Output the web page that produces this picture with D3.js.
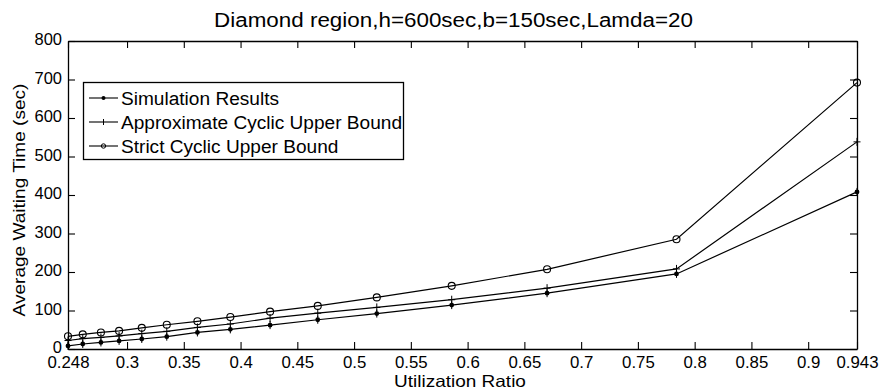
<!DOCTYPE html>
<html>
<head>
<meta charset="utf-8">
<script src="https://cdn.jsdelivr.net/npm/d3@7/dist/d3.min.js"></script>
<style>
  html, body { margin: 0; padding: 0; background: #fff; }
  svg { display: block; font-family: "Liberation Sans", Arial, Helvetica, sans-serif; }
</style>
</head>
<body>
<svg id="chart" width="883" height="390"></svg>
<script>
// Utilization ratios at which the waiting time was evaluated
const utilization = [0.248, 0.261, 0.277, 0.293, 0.313, 0.335, 0.362, 0.391, 0.426, 0.468, 0.520, 0.586, 0.670, 0.784, 0.943];

// Average waiting time (sec) for each method
const simulationResults = [8, 13, 17, 21, 26, 32, 43, 51, 62, 76, 92, 114, 145, 195, 408];
const approxCyclicBound = [22, 27, 30, 34, 40, 46, 56, 65, 80, 93, 108, 128, 158, 208, 538];
const strictCyclicBound = [33, 38, 43, 47, 55, 63, 72, 83, 97, 112, 134, 164, 207, 285, 692];

const seriesNames = ["Simulation Results", "Approximate Cyclic Upper Bound", "Strict Cyclic Upper Bound"];

// Axis ticks
const xTicks = [0.248, 0.3, 0.35, 0.4, 0.45, 0.5, 0.55, 0.6, 0.65, 0.7, 0.75, 0.8, 0.85, 0.9, 0.943];
const xTickLabels = ["0.248", "0.3", "0.35", "0.4", "0.45", "0.5", "0.55", "0.6", "0.65", "0.7", "0.75", "0.8", "0.85", "0.9", "0.943"];
const yTicks = [0, 100, 200, 300, 400, 500, 600, 700, 800];

const titleText = "Diamond region,h=600sec,b=150sec,Lamda=20";
const xLabel = "Utilization Ratio";
const yLabel = "Average Waiting Time (sec)";

const svg = d3.select("#chart");
const plotLeft = 68, plotRight = 857, plotTop = 41, plotBottom = 349;
const tickLen = 7;

const x = d3.scaleLinear().domain([0.248, 0.943]).range([plotLeft, plotRight]);
const y = d3.scaleLinear().domain([0, 800]).range([plotBottom, plotTop]);

const fmt = d => xTickLabels[xTicks.indexOf(d)];

// Stretch a text horizontally by a factor (the typeface used is a bit narrow)
function widen(sel, factor) {
  sel.each(function () {
    const w = this.getComputedTextLength();
    d3.select(this).attr("textLength", w * factor).attr("lengthAdjust", "spacingAndGlyphs");
  });
}

// Bottom axis with labels, inward ticks
const gx = svg.append("g").attr("transform", `translate(0,${plotBottom})`)
  .call(d3.axisBottom(x).tickValues(xTicks).tickFormat(fmt).tickSizeInner(-tickLen).tickSizeOuter(0).tickPadding(8));
// Top axis, ticks only
const gxt = svg.append("g").attr("transform", `translate(0,${plotTop})`)
  .call(d3.axisTop(x).tickValues(xTicks).tickFormat("").tickSizeInner(-tickLen).tickSizeOuter(0));
// Left axis with labels
const gy = svg.append("g").attr("transform", `translate(${plotLeft},0)`)
  .call(d3.axisLeft(y).tickValues(yTicks).tickSizeInner(-tickLen).tickSizeOuter(0).tickPadding(6));
// Right axis, ticks only
const gyr = svg.append("g").attr("transform", `translate(${plotRight},0)`)
  .call(d3.axisRight(y).tickValues(yTicks).tickFormat("").tickSizeInner(-tickLen).tickSizeOuter(0));

[gx, gxt, gy, gyr].forEach(g => {
  g.selectAll("path.domain").attr("stroke", "#000").attr("stroke-width", 1.3);
  g.selectAll(".tick line").attr("stroke", "#000").attr("stroke-width", 1.1);
  g.selectAll(".tick text").attr("fill", "#000").attr("font-size", 16)
    .attr("font-family", "'Liberation Sans', Arial, sans-serif");
});
gy.selectAll(".tick text").attr("dy", "0.22em");
widen(gx.selectAll(".tick text"), 1.05);
widen(gy.selectAll(".tick text"), 1.03);

// Series
const series = [
  { name: seriesNames[0], values: simulationResults, marker: "dot" },
  { name: seriesNames[1], values: approxCyclicBound, marker: "plus" },
  { name: seriesNames[2], values: strictCyclicBound, marker: "circle" }
];

const line = d3.line().x(d => x(d[0])).y(d => y(d[1]));

function drawMarker(g, type, cx, cy) {
  if (type === "dot") {
    g.append("circle").attr("cx", cx).attr("cy", cy).attr("r", 2.4).attr("fill", "#000");
    g.append("line").attr("x1", cx).attr("x2", cx).attr("y1", cy - 4).attr("y2", cy + 4)
      .attr("stroke", "#000").attr("stroke-width", 1);
  } else if (type === "plus") {
    g.append("line").attr("x1", cx - 3.5).attr("x2", cx + 3.5).attr("y1", cy).attr("y2", cy)
      .attr("stroke", "#000").attr("stroke-width", 1);
    g.append("line").attr("x1", cx).attr("x2", cx).attr("y1", cy - 4).attr("y2", cy + 4)
      .attr("stroke", "#000").attr("stroke-width", 1);
  } else {
    g.append("circle").attr("cx", cx).attr("cy", cy).attr("r", 3.5)
      .attr("fill", "none").attr("stroke", "#000").attr("stroke-width", 1.1);
  }
}

series.forEach(s => {
  const pts = utilization.map((u, i) => [u, s.values[i]]);
  svg.append("path").datum(pts).attr("d", line)
    .attr("fill", "none").attr("stroke", "#000").attr("stroke-width", 1.2);
  const mg = svg.append("g");
  pts.forEach(p => drawMarker(mg, s.marker, x(p[0]), y(p[1])));
});

// Legend
const lg = svg.append("g");
lg.append("rect").attr("x", 83.5).attr("y", 82.5).attr("width", 320).attr("height", 77)
  .attr("fill", "#fff").attr("stroke", "#000").attr("stroke-width", 1.3);
const rowY = [98, 122, 146];
series.forEach((s, i) => {
  lg.append("line").attr("x1", 89).attr("x2", 118).attr("y1", rowY[i]).attr("y2", rowY[i])
    .attr("stroke", "#000").attr("stroke-width", 1.1);
  if (s.marker === "circle") {
    lg.append("circle").attr("cx", 103.5).attr("cy", rowY[i]).attr("r", 2.2)
      .attr("fill", "none").attr("stroke", "#000").attr("stroke-width", 1);
  } else if (s.marker === "dot") {
    lg.append("circle").attr("cx", 103.5).attr("cy", rowY[i]).attr("r", 2).attr("fill", "#000");
  } else {
    lg.append("line").attr("x1", 103.5).attr("x2", 103.5).attr("y1", rowY[i] - 3).attr("y2", rowY[i] + 3)
      .attr("stroke", "#000").attr("stroke-width", 1);
  }
});
const legendTexts = lg.selectAll("text.leg").data(series).join("text")
  .attr("class", "leg")
  .attr("x", 121).attr("y", (d, i) => rowY[i] + 6.5).attr("font-size", 18)
  .attr("fill", "#000").text(d => d.name);
widen(legendTexts, 1.06);

// Title and axis labels
const title = svg.append("text").attr("x", 453.5).attr("y", 27).attr("text-anchor", "middle")
  .attr("font-size", 20).attr("fill", "#000").text(titleText);
widen(title, 1.12);
const xl = svg.append("text").attr("x", 460).attr("y", 387).attr("text-anchor", "middle")
  .attr("font-size", 16.5).attr("fill", "#000").text(xLabel);
widen(xl, 1.15);
const yl = svg.append("text").attr("transform", "translate(25,200) rotate(-90)").attr("text-anchor", "middle")
  .attr("font-size", 17).attr("fill", "#000").text(yLabel);
widen(yl, 1.12);
</script>
</body>
</html>
